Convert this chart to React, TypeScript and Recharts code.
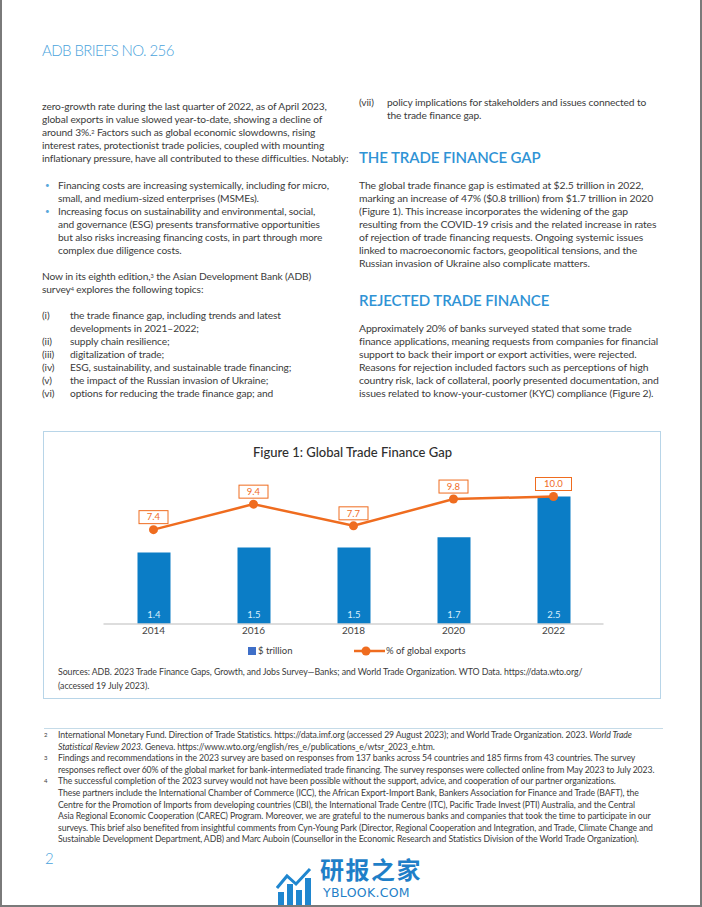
import React from 'react';
import { ComposedChart, Bar, Line, XAxis, YAxis, LabelList } from 'recharts';

const years = ['2014', '2016', '2018', '2020', '2022'];
const gapTrillion = [1.4, 1.5, 1.5, 1.7, 2.5];
const pctGlobalExports = [7.4, 9.4, 7.7, 9.8, 10.0];
const barLabels = ['1.4', '1.5', '1.5', '1.7', '2.5'];
const lineLabels = ['7.4', '9.4', '7.7', '9.8', '10.0'];

const data = years.map((year, i) => ({
  year,
  gap: gapTrillion[i],
  pct: pctGlobalExports[i],
  gapLabel: barLabels[i],
  pctLabel: lineLabels[i],
}));

const BLUE = '#0b7dc6';
const ORANGE = '#ef6c1f';
const TEXT = '#3b3b3b';
const HEAD = '#2f93d5';
const FONT = 'Lato, "Noto Sans", sans-serif';

const PctLabel = (props: any) => {
  const { x, y, value } = props;
  const s = String(value);
  const w = s.length > 3 ? 36 : 29;
  const h = 13;
  return (
    <g>
      <rect x={x - w / 2} y={y - 6 - h} width={w} height={h} fill="#fff" stroke={ORANGE} strokeWidth={1} />
      <text x={x} y={y - 6 - 3.2} textAnchor="middle" fontSize={9.5} fill={ORANGE} fontFamily={FONT}>
        {s}
      </text>
    </g>
  );
};

const body: React.CSSProperties = {
  position: 'absolute',
  fontFamily: FONT,
  fontSize: 10.2,
  lineHeight: '13px',
  color: TEXT,
  whiteSpace: 'nowrap',
  letterSpacing: -0.12,
};

const head: React.CSSProperties = {
  position: 'absolute',
  fontFamily: FONT,
  fontSize: 15,
  fontWeight: 600,
  lineHeight: '20px',
  color: HEAD,
  whiteSpace: 'nowrap',
  letterSpacing: -0.1,
};

const fn: React.CSSProperties = {
  position: 'absolute',
  fontFamily: FONT,
  fontSize: 8.7,
  lineHeight: '11.6px',
  color: TEXT,
  whiteSpace: 'nowrap',
  letterSpacing: -0.1,
};

const Sup = ({ children }: { children: React.ReactNode }) => (
  <sup style={{ fontSize: '0.55em', verticalAlign: 'top', position: 'relative', top: -1 }}>{children}</sup>
);

const Item = ({ top, left, label, labelW, lines, labelStyle }: { top: number; left: number; label: string; labelW: number; lines: React.ReactNode; labelStyle?: React.CSSProperties }) => (
  <div style={{ ...body, top, left }}>
    <span style={{ display: 'inline-block', width: labelW, verticalAlign: 'top', ...labelStyle }}>{label}</span>
    <span style={{ display: 'inline-block', verticalAlign: 'top' }}>{lines}</span>
  </div>
);

const bulletStyle: React.CSSProperties = { color: '#5aa9dc', fontSize: 8 };

export default function App() {
  return (
    <div
      style={{
        position: 'absolute',
        left: 0,
        top: 0,
        width: 702,
        height: 907,
        boxSizing: 'border-box',
        borderLeft: '2px solid #7a7a7a',
        borderRight: '2px solid #7a7a7a',
        borderBottom: '2px solid #7a7a7a',
        background: '#fff',
        overflow: 'hidden',
      }}
    >
      <div style={{ position: 'absolute', left: 40, top: 40, fontFamily: FONT, fontSize: 15, fontWeight: 300, color: '#4aa3dc', whiteSpace: 'nowrap', lineHeight: '20px', letterSpacing: -0.6 }}>
        ADB BRIEFS NO. 256
      </div>

      {/* Left column */}
      <div style={{ ...body, top: 99.5, left: 40 }}>
        zero-growth rate during the last quarter of 2022, as of April 2023,<br />
        global exports in value slowed year-to-date, showing a decline of<br />
        around 3%.<Sup>2</Sup> Factors such as global economic slowdowns, rising<br />
        interest rates, protectionist trade policies, coupled with mounting<br />
        inflationary pressure, have all contributed to these difficulties. Notably:
      </div>
      <Item top={178.5} left={43} label="•" labelW={13} labelStyle={bulletStyle} lines={<>Financing costs are increasing systemically, including for micro,<br />small, and medium-sized enterprises (MSMEs).</>} />
      <Item top={204.5} left={43} label="•" labelW={13} labelStyle={bulletStyle} lines={<>Increasing focus on sustainability and environmental, social,<br />and governance (ESG) presents transformative opportunities<br />but also risks increasing financing costs, in part through more<br />complex due diligence costs.</>} />
      <div style={{ ...body, top: 269.5, left: 40 }}>
        Now in its eighth edition,<Sup>3</Sup> the Asian Development Bank (ADB)<br />
        survey<Sup>4</Sup> explores the following topics:
      </div>
      <Item top={308.5} left={40} label="(i)" labelW={28} lines={<>the trade finance gap, including trends and latest<br />developments in 2021–2022;</>} />
      <Item top={334.5} left={40} label="(ii)" labelW={28} lines="supply chain resilience;" />
      <Item top={347.5} left={40} label="(iii)" labelW={28} lines="digitalization of trade;" />
      <Item top={360.5} left={40} label="(iv)" labelW={28} lines="ESG, sustainability, and sustainable trade financing;" />
      <Item top={373.5} left={40} label="(v)" labelW={28} lines="the impact of the Russian invasion of Ukraine;" />
      <Item top={386.5} left={40} label="(vi)" labelW={28} lines="options for reducing the trade finance gap; and" />

      {/* Right column */}
      <Item top={95.5} left={357} label="(vii)" labelW={28} lines={<>policy implications for stakeholders and issues connected to<br />the trade finance gap.</>} />
      <div style={{ ...head, top: 147, left: 357 }}>THE TRADE FINANCE GAP</div>
      <div style={{ ...body, top: 178.5, left: 357, fontSize: 10.4 }}>
        The global trade finance gap is estimated at $2.5 trillion in 2022,<br />
        marking an increase of 47% ($0.8 trillion) from $1.7 trillion in 2020<br />
        (Figure 1). This increase incorporates the widening of the gap<br />
        resulting from the COVID-19 crisis and the related increase in rates<br />
        of rejection of trade financing requests. Ongoing systemic issues<br />
        linked to macroeconomic factors, geopolitical tensions, and the<br />
        Russian invasion of Ukraine also complicate matters.
      </div>
      <div style={{ ...head, top: 290, left: 357 }}>REJECTED TRADE FINANCE</div>
      <div style={{ ...body, top: 321.5, left: 357, fontSize: 10.4 }}>
        Approximately 20% of banks surveyed stated that some trade<br />
        finance applications, meaning requests from companies for financial<br />
        support to back their import or export activities, were rejected.<br />
        Reasons for rejection included factors such as perceptions of high<br />
        country risk, lack of collateral, poorly presented documentation, and<br />
        issues related to know-your-customer (KYC) compliance (Figure 2).
      </div>

      {/* Figure box */}
      <div style={{ position: 'absolute', left: 41, top: 431, width: 618, height: 268, boxSizing: 'border-box', border: '1px solid #b8d5e8' }} />
      <div style={{ position: 'absolute', left: 42, top: 444, width: 617, textAlign: 'center', fontFamily: FONT, fontSize: 13, fontWeight: 500, color: '#2e2e2e', lineHeight: '16px' }}>
        Figure 1: Global Trade Finance Gap
      </div>
      <div style={{ position: 'absolute', left: 42, top: 432 }}>
        <ComposedChart width={617} height={267} data={data} margin={{ top: 39, right: 57.5, bottom: 55, left: 59.5 }}>
          <XAxis
            dataKey="year"
            height={20}
            tickLine={false}
            tickSize={0}
            tickMargin={3}
            axisLine={{ stroke: '#d2d2d2', strokeWidth: 1.5 }}
            tick={{ fontSize: 10, fill: '#444', fontFamily: FONT }}
          />
          <YAxis yAxisId="left" domain={[0, 3]} hide width={0} />
          <YAxis yAxisId="right" orientation="right" domain={[0, 12]} hide width={0} />
          <Bar yAxisId="left" dataKey="gap" fill={BLUE} barSize={33} isAnimationActive={false}>
            <LabelList dataKey="gapLabel" position="insideBottom" offset={6} fill="#d9eefc" fontSize={9.5} fontFamily={FONT} />
          </Bar>
          <Line
            yAxisId="right"
            dataKey="pct"
            stroke={ORANGE}
            strokeWidth={2.5}
            dot={{ r: 4.5, fill: ORANGE, stroke: ORANGE, strokeWidth: 0 }}
            isAnimationActive={false}
          >
            <LabelList dataKey="pctLabel" content={PctLabel} />
          </Line>
        </ComposedChart>
      </div>
      {/* Legend */}
      <div style={{ position: 'absolute', left: 246, top: 647, width: 8, height: 8, background: '#3f6fc8' }} />
      <div style={{ position: 'absolute', left: 256, top: 644, fontFamily: FONT, fontSize: 9.5, color: TEXT, lineHeight: '14px', whiteSpace: 'nowrap' }}>$ trillion</div>
      <svg style={{ position: 'absolute', left: 350, top: 645 }} width={34} height={12}>
        <line x1={2} y1={6} x2={33} y2={6} stroke={ORANGE} strokeWidth={2.5} />
        <circle cx={14} cy={6} r={4.5} fill={ORANGE} />
      </svg>
      <div style={{ position: 'absolute', left: 384, top: 644, fontFamily: FONT, fontSize: 9.5, color: TEXT, lineHeight: '14px', whiteSpace: 'nowrap' }}>% of global exports</div>
      <div style={{ position: 'absolute', left: 56, top: 665, fontFamily: FONT, fontSize: 8.8, color: TEXT, lineHeight: '13.5px', whiteSpace: 'nowrap', letterSpacing: -0.08 }}>
        Sources: ADB. 2023 Trade Finance Gaps, Growth, and Jobs Survey—Banks; and World Trade Organization. WTO Data. https://data.wto.org/<br />
        (accessed 19 July 2023).
      </div>

      {/* Footnotes */}
      <div style={{ position: 'absolute', left: 42, top: 728, width: 619, height: 1, background: '#c5dbe8' }} />
      <div style={{ ...fn, top: 729, left: 42 }}>
        <div style={{ display: 'flex' }}><span style={{ width: 14, fontSize: 6 }}>2</span><span>International Monetary Fund. Direction of Trade Statistics. https://data.imf.org (accessed 29 August 2023); and World Trade Organization. 2023. <i>World Trade</i><br /><i>Statistical Review 2023</i>. Geneva. https://www.wto.org/english/res_e/publications_e/wtsr_2023_e.htm.</span></div>
        <div style={{ display: 'flex' }}><span style={{ width: 14, fontSize: 6 }}>3</span><span>Findings and recommendations in the 2023 survey are based on responses from 137 banks across 54 countries and 185 firms from 43 countries. The survey<br />responses reflect over 60% of the global market for bank-intermediated trade financing. The survey responses were collected online from May 2023 to July 2023.</span></div>
        <div style={{ display: 'flex' }}><span style={{ width: 14, fontSize: 6 }}>4</span><span>The successful completion of the 2023 survey would not have been possible without the support, advice, and cooperation of our partner organizations.<br />These partners include the International Chamber of Commerce (ICC), the African Export-Import Bank, Bankers Association for Finance and Trade (BAFT), the<br />Centre for the Promotion of Imports from developing countries (CBI), the International Trade Centre (ITC), Pacific Trade Invest (PTI) Australia, and the Central<br />Asia Regional Economic Cooperation (CAREC) Program. Moreover, we are grateful to the numerous banks and companies that took the time to participate in our<br />surveys. This brief also benefited from insightful comments from Cyn-Young Park (Director, Regional Cooperation and Integration, and Trade, Climate Change and<br />Sustainable Development Department, ADB) and Marc Auboin (Counsellor in the Economic Research and Statistics Division of the World Trade Organization).</span></div>
      </div>

      <div style={{ position: 'absolute', left: 43, top: 849, fontFamily: FONT, fontSize: 15, fontWeight: 300, color: '#4aa3dc', lineHeight: '18px' }}>2</div>

      {/* Watermark */}
      <svg style={{ position: 'absolute', left: 274, top: 866 }} width={40} height={40}>
        <rect x={2} y={26} width={6} height={14} fill="#1f86cf" />
        <rect x={11} y={18} width={6} height={22} fill="#1f86cf" />
        <rect x={20} y={24} width={6} height={16} fill="#1f86cf" />
        <rect x={29} y={12} width={6} height={28} fill="#1f86cf" />
        <polyline points="1,22 11,10 20,18 34,3" fill="none" stroke="#1f86cf" strokeWidth={3} />
      </svg>
      <div style={{ position: 'absolute', left: 318, top: 855, fontFamily: '"Noto Sans CJK SC", sans-serif', fontSize: 24, fontWeight: 700, color: '#1f7fc8', lineHeight: '28px', whiteSpace: 'nowrap', letterSpacing: 1.5 }}>研报之家</div>
      <div style={{ position: 'absolute', left: 321, top: 886, fontFamily: '"DejaVu Sans", sans-serif', fontSize: 12.5, color: '#1f7fc8', lineHeight: '14px', whiteSpace: 'nowrap', letterSpacing: 0.3 }}>YBLOOK.COM</div>
    </div>
  );
}
